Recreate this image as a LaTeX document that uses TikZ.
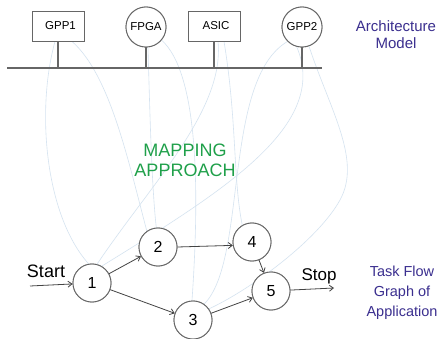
\documentclass[tikz,border=0pt]{standalone}
\usepackage{fontspec}
\setmainfont{Liberation Sans}
\usetikzlibrary{arrows.meta}
\definecolor{mapline}{HTML}{D5E3F0}
\definecolor{archgray}{HTML}{666666}
\definecolor{labelblue}{HTML}{3B2F8F}
\definecolor{mapgreen}{HTML}{1FA04A}
\definecolor{arrgray}{HTML}{444444}
\tikzset{
  archbox/.style={draw=archgray, line width=0.9pt, fill=white, minimum width=52pt, minimum height=30pt, inner sep=0pt, font=\fontsize{11.5}{13}\selectfont},
  archcirc/.style={draw=archgray, line width=0.9pt, fill=white, circle, minimum size=40pt, inner sep=0pt, font=\fontsize{11.5}{13}\selectfont},
  task/.style={draw=archgray, line width=0.9pt, fill=white, circle, minimum size=38pt, inner sep=0pt, font=\fontsize{16}{18}\selectfont},
  busline/.style={draw=archgray, line width=1.1pt},
  mapcurve/.style={draw=mapline, line width=0.6pt},
  arr/.style={draw=arrgray, line width=0.8pt, -{Straight Barb[length=4pt,width=6pt]}},
  sidelabel/.style={text=labelblue, align=center, inner sep=0pt},
}
\begin{document}
\begin{tikzpicture}[x=1pt,y=-1pt]
\useasboundingbox[fill=white] (0,0) rectangle (439,339);

% architecture model
\node[archbox] (gpp1) at (58,26) {\hspace*{5pt}GPP1};
\node[archcirc] (fpga) at (146,27) {FPGA};
\node[archbox] (asic) at (214,26) {\hspace*{4pt}ASIC};
\node[archcirc] (gpp2) at (302,27) {GPP2};
\coordinate (busL) at (7,68);
\coordinate (busR) at (322,68);

% task flow graph
\node[task] (n1) at (92,283) {1};
\node[task] (n2) at (158,247) {2};
\node[task] (n3) at (193,320) {3};
\node[task] (n4) at (252,242) {4};
\node[task] (n5) at (271,291) {5};
\coordinate (startc) at (30,286);
\coordinate (stopc) at (334,288);

% mapping curves (behind)
\path[mapcurve] ([xshift=-3pt]gpp1.south) .. controls (36,110) and (45,215) .. (n1.100);
\path[mapcurve] ([xshift=14pt]gpp1.south) .. controls (110,75) and (128,160) .. (n2.125);
\path[mapcurve] ([xshift=2pt]fpga.south) .. controls (150,120) and (152,190) .. (n2.95);
\path[mapcurve] (fpga.-40) .. controls (200,75) and (199,200) .. (n3.93);
\path[mapcurve] ([xshift=10pt]asic.south) .. controls (237,120) and (233,180) .. (n4.120);
\path[mapcurve] (gpp2.225) .. controls (222,80) and (248,260) .. (n3.55);
\path[mapcurve] ([xshift=4pt]asic.south) .. controls (225,110) and (150,185) .. (n1.75);
\path[mapcurve] (gpp2.-105) .. controls (330,125) and (225,190) .. (n1.60);
\path[mapcurve] (gpp2.-70) .. controls (330,110) and (362,160) .. (340,200)
                .. controls (318,240) and (250,290) .. (n3.35);

% redraw nodes above curves
\node[archbox] at (gpp1) {\hspace*{5pt}GPP1};
\node[archcirc] at (fpga) {FPGA};
\node[archbox] at (asic) {\hspace*{4pt}ASIC};
\node[archcirc] at (gpp2) {GPP2};
\node[task] at (n1) {1};
\node[task] at (n2) {2};
\node[task] at (n3) {3};
\node[task] at (n4) {4};
\node[task] at (n5) {5};

% bus
\path[busline] (busL) -- (busR);
\path[busline] (gpp1.south) -- (gpp1.south |- busL);
\path[busline] (fpga.south) -- (fpga.south |- busL);
\path[busline] (asic.south) -- (asic.south |- busL);
\path[busline] (gpp2.south) -- (gpp2.south |- busL);

% arrows
\path[arr] (startc) -- (n1);
\path[arr] (n1) -- (n2);
\path[arr] (n1) -- (n3);
\path[arr] (n2.east) -- (n4.190);
\path[arr] (n4) -- (n5);
\path[arr] (n3) -- (n5);
\path[arr] (n5) -- (stopc);

% labels
\node[font=\fontsize{18}{20}\selectfont, inner sep=0pt] (startl) at (46,271) {Start};
\node[font=\fontsize{17}{20}\selectfont, inner sep=0pt] (stopl) at (319,276) {Stop};
\node[sidelabel, font=\fontsize{15}{17}\selectfont] (archl) at (396,35) {Architecture\\Model};
\node[sidelabel, font=\fontsize{14.5}{20}\selectfont] (taskl) at (402,293) {Task Flow\\Graph of\\Application};
\node[text=mapgreen, align=center, inner sep=0pt, font=\fontsize{18}{20}\selectfont] (mapl) at (185,160) {MAPPING\\APPROACH};
\end{tikzpicture}
\end{document}
